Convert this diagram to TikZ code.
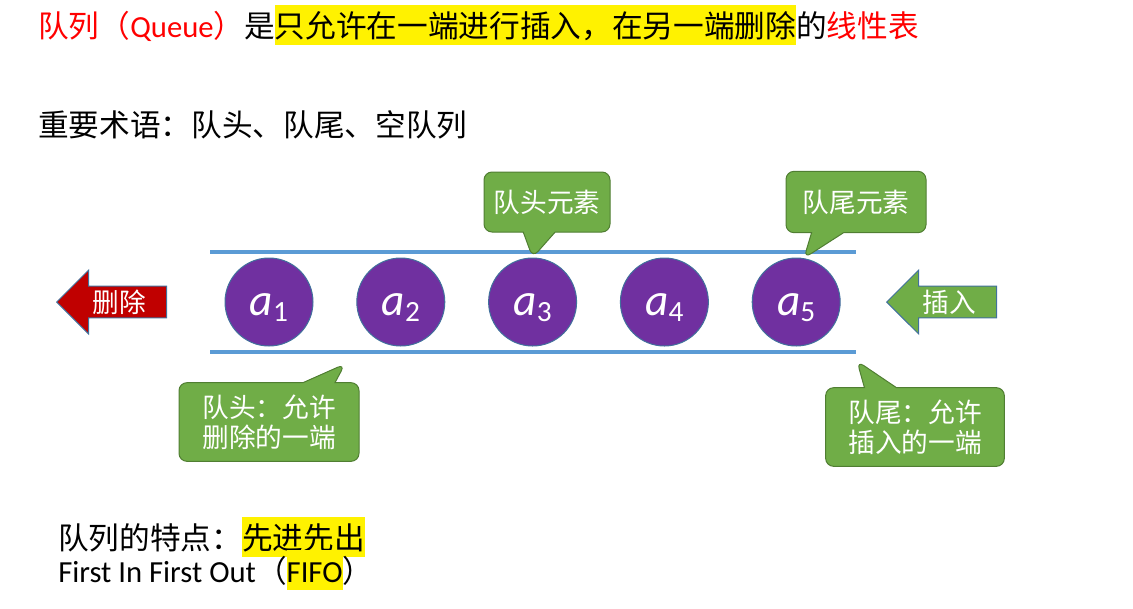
\documentclass[tikz,border=0pt]{standalone}
\usepackage{fontspec}
\setmainfont{Carlito}
\newfontfamily\cjkfont{Noto Sans CJK SC}
\newfontfamily\latfont{Carlito}
\usepackage{xcolor}
\usepackage{tikz}
\usetikzlibrary{positioning, shapes.arrows, shapes.callouts}
\definecolor{qred}{HTML}{FF0000}
\definecolor{qpurple}{HTML}{7030A0}
\definecolor{qtube}{HTML}{5B9BD5}
\definecolor{qedge}{HTML}{41719C}
\definecolor{qgreen}{HTML}{70AD47}
\definecolor{qgreenedge}{HTML}{507E32}
\definecolor{qdelred}{HTML}{C00000}
\newcommand{\bigtext}{\cjkfont\fontsize{23pt}{27pt}\selectfont}
\newcommand{\midtext}{\cjkfont\fontsize{20pt}{22.5pt}\selectfont}
\newcommand{\hlite}[1]{{\fboxsep=0pt\colorbox{yellow}{\rule[-0.25em]{0pt}{1.3em}#1}}}

\tikzset{
    elem/.style={circle, fill=qpurple, draw=qedge, line width=0.75pt, minimum size=66pt,
                 inner sep=0pt, text=white, text height=22pt, text depth=2.5pt},
    tube/.style={draw=qtube, line width=3pt},
    blockarrow/.style={single arrow, shape border rotate=180, draw=qedge, line width=0.75pt,
                       text=white, font=\midtext, single arrow head extend=12pt,
                       single arrow tip angle=90, single arrow head indent=0pt,
                       minimum height=82.5pt, text height=17pt, text depth=2pt,
                       inner ysep=2pt, inner xsep=4pt},
    note/.style={rectangle callout, fill=qgreen, draw=qgreenedge, line width=0.75pt,
                 rounded corners=6pt, text=white, font=\midtext, inner sep=0pt, align=left,
                 callout pointer width=24pt},
}

\begin{document}
\begin{tikzpicture}[x=0.75pt, y=-0.75pt]
    \useasboundingbox (0,0) rectangle (1133,608);

    % headline and terms
    \node[anchor=base west, inner sep=0pt, font=\bigtext] (title) at (38,37)
      {\textcolor{qred}{队列（{\latfont Queue}）}是\hlite{只允许在一端进行插入，在另一端删除}的\textcolor{qred}{线性表}};
    \node[anchor=base west, inner sep=0pt, font=\bigtext] (terms) at (38,136)
      {重要术语：队头、队尾、空队列};

    % the queue
    \coordinate (topL) at (210,252);
    \coordinate (topR) at (856,252);
    \coordinate (botL) at (210,352);
    \coordinate (botR) at (856,352);
    \draw[tube] (topL) -- (topR);
    \draw[tube] (botL) -- (botR);
    \foreach \i in {1,...,5}
        \node[elem] (a\i) at ({269+131.8*(\i-1)},302)
          {{\latfont\itshape\fontsize{34pt}{34pt}\selectfont a}{\latfont\fontsize{22pt}{22pt}\selectfont\raisebox{-5pt}{\i}}};

    \node[blockarrow, fill=qdelred, anchor=tip] (del) at (56,302) {删除};
    \node[blockarrow, fill=qgreen, anchor=tip] (ins) at (886,302) {插入};

    % callouts
    \coordinate (headtip) at (345,364);
    \coordinate (tailtip) at (857,361);
    \node[note, minimum width=94.5pt, minimum height=45pt,
          callout absolute pointer={(a3.north)}] (headnote) at (547,202) {队头元素};
    \node[note, minimum width=105pt, minimum height=46pt,
          callout absolute pointer={(a5.80)}] (tailnote) at (856,202) {队尾元素};
    \node[note, minimum width=135pt, minimum height=59pt,
          callout absolute pointer={(headtip)}] (headend) at (269,422) {队头：允许\\删除的一端};
    \node[note, minimum width=134pt, minimum height=59pt,
          callout absolute pointer={(tailtip)}] (tailend) at (915,427) {队尾：允许\\插入的一端};

    % summary
    \node[anchor=base west, inner sep=0pt, font=\bigtext] (feature) at (58,549)
      {队列的特点：\hlite{先进先出}};
    \node[anchor=base west, inner sep=0pt, font=\bigtext] (fifo) at (58,582)
      {{\latfont First In First Out}（\hlite{\latfont FIFO}）};
\end{tikzpicture}
\end{document}
